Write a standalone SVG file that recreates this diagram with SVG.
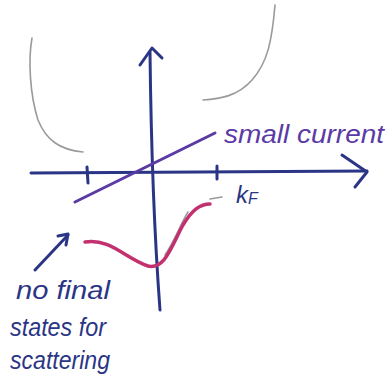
<svg xmlns="http://www.w3.org/2000/svg" width="390" height="388" viewBox="0 0 390 388">
<style>
.ax{fill:none;stroke:#2b3585;stroke-width:3;stroke-linecap:round;stroke-linejoin:round}
.gr{fill:none;stroke:#9a9a9a;stroke-width:1.6;stroke-linecap:round}
.pu{fill:none;stroke:#5b3aa6;stroke-width:3;stroke-linecap:round}
.mg{fill:none;stroke:#c2306f;stroke-width:3.5;stroke-linecap:round}
.t{font-family:"Liberation Sans",Arial,sans-serif;font-style:italic}
</style>
<rect width="390" height="388" fill="#ffffff"/>
<g id="gray-curves">
<path class="gr" d="M32,38 C28,60 30,95 38,120 C46,140 60,150 83,152"/>
<path class="gr" d="M275,5 C272,40 268,62 252,80 C238,96 220,99 203,100"/>
<path class="gr" d="M210,199 L222,197"/>
<path class="gr" d="M165,255 C175,240 180,225 188,212"/>
</g>
<g id="connectors">
<path class="ax" d="M31,173 L367,171"/>
<path class="ax" d="M342,155 L367,172 L355,187"/>
<path class="ax" d="M150,52 C151,140 154,230 160,310"/>
<path class="ax" d="M140,65 L152,48 L162,58"/>
<path class="ax" d="M87,167 L88,183"/>
<path class="ax" d="M217,166 L217,179"/>
<path class="ax" d="M35,270 L68,235"/>
<path class="ax" d="M58,236 L68,234 L66,245"/>
</g>
<g id="small-current">
<path class="pu" d="M75,202 L215,133"/>
<text class="t" x="224" y="143" font-size="26" textLength="160" lengthAdjust="spacingAndGlyphs" fill="#5b3aa6">small current</text>
</g>
<g id="kF">
<text class="t" x="236" y="203" font-size="24" fill="#2b3585">k<tspan font-size="16" dy="1">F</tspan></text>
</g>
<g id="magenta-curve">
<path class="mg" d="M85,242 C110,238 125,258 148,266 C165,270 172,245 183,225 C192,210 200,204 210,204"/>
</g>
<g id="note" class="t" font-size="25" fill="#2b3585">
<text x="16" y="299" textLength="94" lengthAdjust="spacingAndGlyphs">no final</text>
<text x="10" y="336" textLength="96" lengthAdjust="spacingAndGlyphs">states for</text>
<text x="10" y="369" textLength="100" lengthAdjust="spacingAndGlyphs">scattering</text>
</g>
</svg>
